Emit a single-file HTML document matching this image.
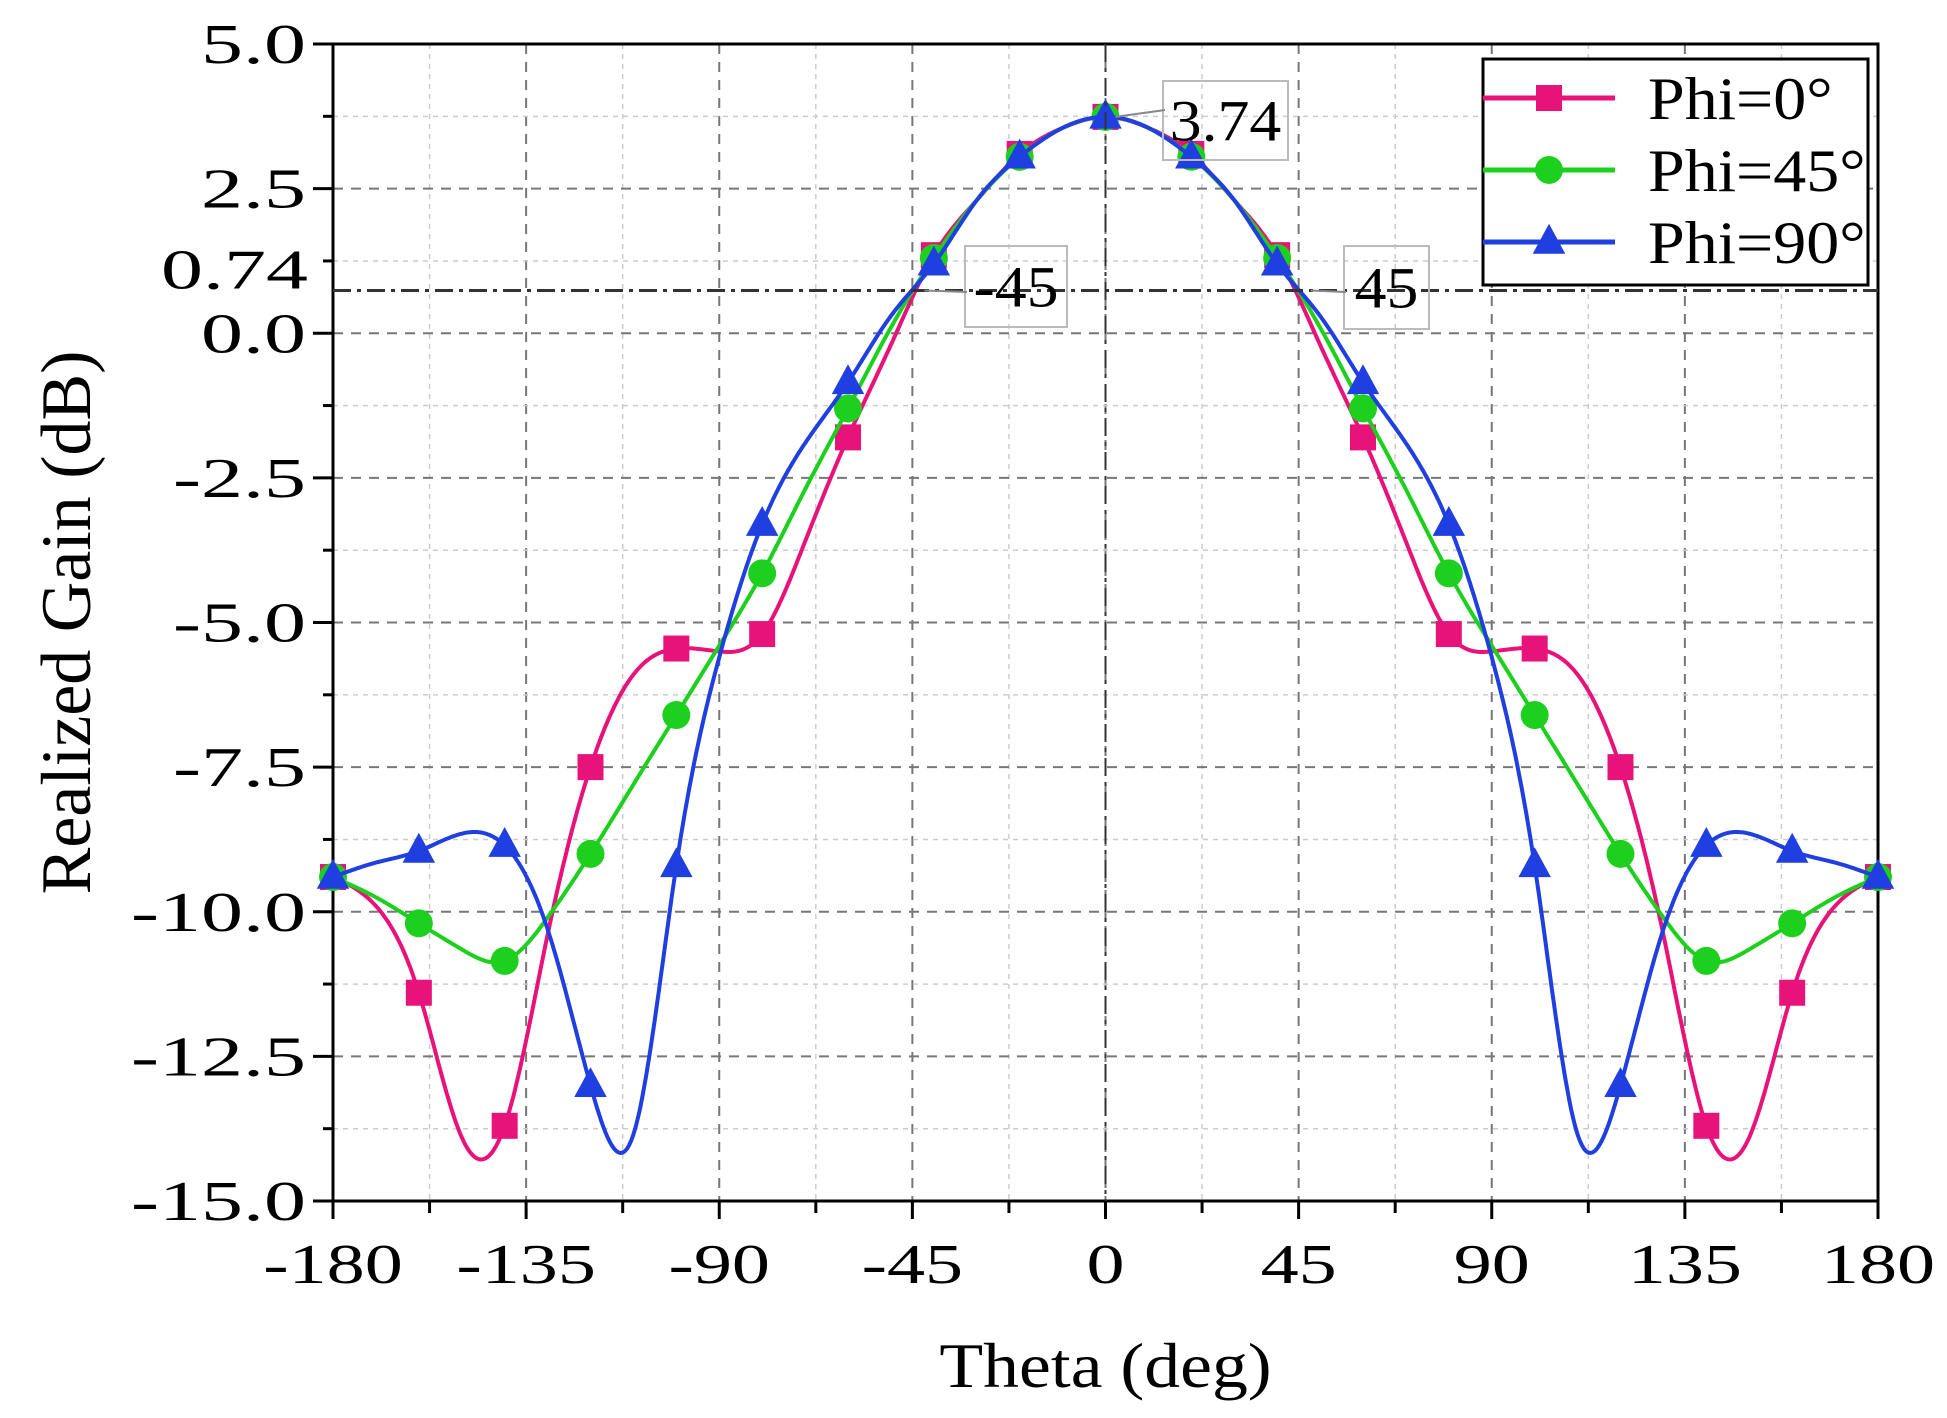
<!DOCTYPE html>
<html><head><meta charset="utf-8">
<style>
html,body{margin:0;padding:0;background:#fff;}
svg{display:block;}
text{font-family:"Liberation Serif",serif;fill:#000;}
</style></head>
<body>
<svg id="chart" width="1947" height="1418" viewBox="0 0 1947 1418" xmlns="http://www.w3.org/2000/svg">
<g id="grid"></g>
<g id="axes"></g>
<g id="series"></g>
<g id="annot"></g>
<g id="legend"></g>
</svg>
<script>
const thetas = [-180,-170,-160,-150,-140,-130,-120,-110,-100,-90,-80,-70,-60,-50,-40,-30,-20,-10,0,10,20,30,40,50,60,70,80,90,100,110,120,130,140,150,160,170,180];
const phi0  = [-9.4,-9.9,-11.4,-13.9,-13.7,-10.4,-7.5,-5.9,-5.45,-5.5,-5.2,-3.6,-1.8,-0.2,1.35,2.3,3.1,3.55,3.74,3.55,3.1,2.3,1.35,-0.2,-1.8,-3.6,-5.2,-5.5,-5.45,-5.9,-7.5,-10.4,-13.7,-13.9,-11.4,-9.9,-9.4];
const phi45 = [-9.4,-9.75,-10.2,-10.65,-10.85,-10.1,-9.0,-7.8,-6.6,-5.4,-4.15,-2.7,-1.3,0.1,1.3,2.3,3.05,3.55,3.74,3.55,3.05,2.3,1.3,0.1,-1.3,-2.7,-4.15,-5.4,-6.6,-7.8,-9.0,-10.1,-10.85,-10.65,-10.2,-9.75,-9.4];
const phi90 = [-9.4,-9.15,-8.95,-8.65,-8.85,-10.3,-13.0,-13.85,-9.2,-5.6,-3.3,-1.9,-0.85,0.3,1.2,2.3,3.05,3.55,3.74,3.55,3.05,2.3,1.2,0.3,-0.85,-1.9,-3.3,-5.6,-9.2,-13.85,-13.0,-10.3,-8.85,-8.65,-8.95,-9.15,-9.4];
const markerStep = 2;
const xTicks = [-180,-135,-90,-45,0,45,90,135,180];
const yTicks = [5,2.5,0,-2.5,-5,-7.5,-10,-12.5,-15];
const yTickLabels = ["5.0","2.5","0.0","-2.5","-5.0","-7.5","-10.0","-12.5","-15.0"];
const refGain = 0.74, peakGain = 3.74, halfPower = [-45,45];

const L=333,R=1878,T=44,B=1201;
const X=v=>L+(v+180)/360*(R-L);
const Y=v=>T+(5-v)/20*(B-T);
const NS="http://www.w3.org/2000/svg";
function mk(tag,attrs,parent){const e=document.createElementNS(NS,tag);for(const k in attrs)e.setAttribute(k,attrs[k]);parent.appendChild(e);return e;}
function txt(x,y,s,fs,sx,anchor,par){const t=mk('text',{x:0,y:0,'font-size':fs,'text-anchor':anchor,transform:`translate(${x},${y}) scale(${sx},1)`},par);t.textContent=s;return t;}
const grid=document.getElementById('grid'),axes=document.getElementById('axes'),ser=document.getElementById('series'),ann=document.getElementById('annot'),leg=document.getElementById('legend');

for(let v=-180;v<=180;v+=22.5){const maj=(v%45===0);
 const g=mk('line',{x1:X(v),x2:X(v),y1:T,y2:B,stroke:maj?'#777':'#ccc','stroke-width':maj?2:1.5,'stroke-dasharray':maj?'10 8':'5 5'},grid);
 
 }
for(let v=-15;v<=5;v+=1.25){const maj=(Math.abs(v/2.5-Math.round(v/2.5))<1e-6);
 const g=mk('line',{x1:L,x2:R,y1:Y(v),y2:Y(v),stroke:maj?'#777':'#ccc','stroke-width':maj?2:1.5,'stroke-dasharray':maj?'10 8':'5 5'},grid);
 
 }

let e=mk('line',{x1:L,x2:R,y1:Y(refGain),y2:Y(refGain),stroke:'#333','stroke-width':3,'stroke-dasharray':'18 6 4 6'},ann);


e=mk('line',{x1:X(0),x2:X(0),y1:T,y2:B,stroke:'#333','stroke-width':2,'stroke-dasharray':'18 6 4 6'},ann);



e=mk('rect',{x:L,y:T,width:R-L,height:B-T,fill:'none',stroke:'#000','stroke-width':3},axes);


for(let v=-180;v<=180;v+=22.5){const maj=(v%45===0);
 const t=mk('line',{x1:X(v),x2:X(v),y1:B,y2:B+(maj?18:12),stroke:'#000','stroke-width':3},axes);
 
 }
for(let v=-15;v<=5;v+=1.25){const maj=(Math.abs(v/2.5-Math.round(v/2.5))<1e-6);
 const t=mk('line',{x1:L-(maj?20:10),x2:L,y1:Y(v),y2:Y(v),stroke:'#000','stroke-width':3},axes);
 
 }
xTicks.forEach(v=>{const t=txt(X(v),B+82,String(v),56,1.36,'middle',axes);
 
 });
yTicks.forEach((v,i)=>{const t=txt(L-27,Y(v)+19,yTickLabels[i],56,1.5,'end',axes);
 
 });
e=txt(L-25,Y(refGain)-2,'0.74',56,1.5,'end',axes);


e=txt((L+R)/2,1387,'Theta (deg)',64,1.12,'middle',axes);


e=mk('text',{x:0,y:0,'font-size':66,'text-anchor':'middle',transform:`translate(90,${(T+B)/2}) rotate(-90) scale(1.06,1.08)`},axes);e.textContent='Realized Gain (dB)';



function spline(xs,ys){const n=xs.length,h=[],al=[0],l=[1],mu=[0],z=[0],c=new Array(n).fill(0),b=[],d=[];
 for(let i=0;i<n-1;i++)h.push(xs[i+1]-xs[i]);
 for(let i=1;i<n-1;i++)al.push(3/h[i]*(ys[i+1]-ys[i])-3/h[i-1]*(ys[i]-ys[i-1]));
 for(let i=1;i<n-1;i++){l[i]=2*(xs[i+1]-xs[i-1])-h[i-1]*mu[i-1];mu[i]=h[i]/l[i];z[i]=(al[i]-h[i-1]*z[i-1])/l[i];}
 l[n-1]=1;z[n-1]=0;
 for(let j=n-2;j>=0;j--){c[j]=z[j]-mu[j]*c[j+1];b[j]=(ys[j+1]-ys[j])/h[j]-h[j]*(c[j+1]+2*c[j])/3;d[j]=(c[j+1]-c[j])/(3*h[j]);}
 return x=>{let i=0;while(i<n-2&&x>xs[i+1])i++;const dx=x-xs[i];return ys[i]+b[i]*dx+c[i]*dx*dx+d[i]*dx*dx*dx;};}

const defs=[{d:phi0,c:'#e8137a',m:'sq',n:'phi-0'},{d:phi45,c:'#1ed01e',m:'ci',n:'phi-45'},{d:phi90,c:'#1f3fe0',m:'tr',n:'phi-90'}];
function marker(type,x,y,col,par,s){let m;
 if(type==='sq')m=mk('rect',{x:x-s,y:y-s,width:2*s,height:2*s,fill:col},par);
 else if(type==='ci')m=mk('circle',{cx:x,cy:y,r:s+1,fill:col},par);
 else m=mk('polygon',{points:`${x},${y-s*1.4} ${x-s*1.25},${y+s*0.9} ${x+s*1.25},${y+s*0.9}`,fill:col},par);
 return m;}
defs.forEach(s=>{const f=spline(thetas,s.d);let p='';
 for(let t=-180;t<=180;t+=0.5)p+=(t===-180?'M':'L')+X(t).toFixed(1)+','+Y(f(t)).toFixed(1);
 const g=mk('g',{},ser);
 
 const pl=mk('path',{d:p,fill:'none',stroke:s.c,'stroke-width':4},g);
 
 
 thetas.forEach((t,i)=>{if(i%markerStep)return;const m=marker(s.m,X(t),Y(s.d[i]),s.c,g,13);
  
  });
});

function box(x,y,w,h,s,name){const g=mk('g',{},ann);
 
 
 mk('rect',{x:x,y:y,width:w,height:h,fill:'none',stroke:'#bbb','stroke-width':2},g);
 txt(x+w/2,y+h/2+20,s,58,1.1,'middle',g);}
box(1163,81,125,79,peakGain.toFixed(2),'peak-annotation');
box(965,246,102,81,String(halfPower[0]),'left-beamwidth-annotation');
box(1344,246,85,83,String(halfPower[1]),'right-beamwidth-annotation');
mk('path',{d:`M1165,110 L${X(0)+10},${Y(peakGain)}`,stroke:'#888','stroke-width':2,fill:'none'},ann);
mk('path',{d:`M967,292 L${X(halfPower[0])+12},${Y(refGain)}`,stroke:'#888','stroke-width':2,fill:'none'},ann);
mk('path',{d:`M1346,292 L${X(halfPower[1])+12},${Y(refGain)}`,stroke:'#888','stroke-width':2,fill:'none'},ann);

const lr=mk('rect',{x:1483,y:59,width:385,height:226,fill:'#fff',stroke:'#000','stroke-width':3},leg);


const labs=['Phi=0°','Phi=45°','Phi=90°'];
defs.forEach((s,i)=>{const y=98+i*72;const g=mk('g',{},leg);
 
 
 mk('line',{x1:1483,x2:1615,y1:y,y2:y,stroke:s.c,'stroke-width':5},g);
 marker(s.m,1549,y,s.c,g,13);
 txt(1648,y+21,labs[i],60,1.1,'start',g);});
</script>
</body></html>
